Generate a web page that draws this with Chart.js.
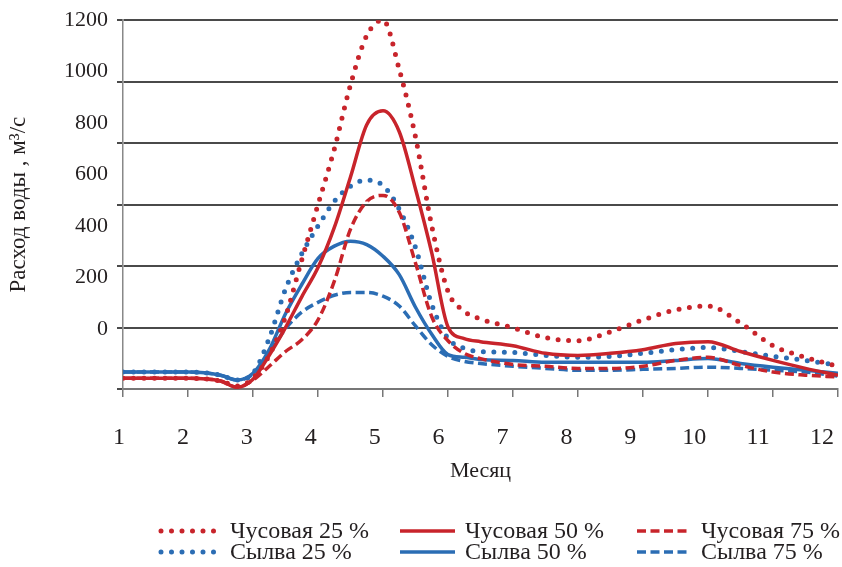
<!DOCTYPE html>
<html lang="ru">
<head>
<meta charset="utf-8">
<title>Расход воды</title>
<script src="https://cdn.jsdelivr.net/npm/chart.js@4.4.1/dist/chart.umd.min.js"></script>
<style>
  html, body { margin: 0; padding: 0; background: #fff; }
  #wrap { width: 842px; height: 567px; }
</style>
</head>
<body>
<div id="wrap"><canvas id="chartRashod" width="842" height="567"></canvas></div>
<script>
// месяцы (точки кривых) и значения расхода, м3/с
const months = [1, 1.5, 2, 2.5, 2.75, 3, 3.25, 3.5, 3.75, 4, 4.25, 4.5, 4.75, 5, 5.25, 5.5, 5.75,
  6, 6.25, 6.5, 7, 7.5, 8, 8.5, 9, 9.5, 10, 10.5, 11, 11.5, 12];

const chus25 = [35, 35, 35, 26, 10, 35, 110, 235, 420, 600, 780, 990, 1150, 1200, 1040, 820, 530,
  318, 253, 228, 199, 167, 157, 186, 225, 257, 270, 215, 141, 103, 74];
const chus50 = [35, 35, 35, 26, 6, 32, 110, 200, 300, 395, 525, 690, 860, 905, 837, 651, 443,
  202, 164, 154, 141, 116, 109, 116, 128, 148, 154, 122, 93, 67, 45];
const chus75 = [35, 35, 35, 26, 6, 29, 74, 122, 160, 225, 350, 520, 610, 630, 575, 410, 235,
  157, 116, 99, 80, 74, 67, 67, 74, 93, 103, 77, 55, 45, 39];
const syl25 = [55, 55, 55, 45, 29, 51, 165, 325, 440, 530, 610, 660, 680, 662, 585, 460, 275,
  165, 132, 122, 119, 109, 103, 106, 116, 128, 135, 122, 106, 93, 77];
const syl50 = [55, 55, 55, 45, 29, 51, 128, 245, 340, 425, 465, 481, 470, 432, 372, 266, 178,
  112, 103, 96, 93, 87, 87, 87, 87, 93, 99, 83, 71, 61, 51];
const syl75 = [55, 55, 55, 45, 29, 48, 116, 196, 250, 282, 305, 314, 314, 302, 270, 205, 144,
  106, 90, 83, 74, 67, 61, 61, 64, 67, 71, 67, 61, 55, 42];

// подписи осей
const monthLabels = [1, 2, 3, 4, 5, 6, 7, 8, 9, 10, 11, 12];
const yLabels = [0, 200, 400, 600, 800, 1000, 1200];

const RED = '#c8242b';
const BLUE = '#2b6db4';
const TXT = '#231f20';
const FONT = 'Liberation Serif';

const pts = (vals) => months.map((m, i) => ({ x: m, y: vals[i] }));

const dotted = { borderWidth: 5, borderDash: [0, 10.5], borderCapStyle: 'round' };
const solid = { borderWidth: 3.5, borderDash: [], borderCapStyle: 'butt' };
const dashed = { borderWidth: 3.5, borderDash: [9, 4.5], borderCapStyle: 'butt' };

const data = {
  datasets: [
    { label: 'Чусовая 25 %', data: pts(chus25), borderColor: RED, ...dotted },
    { label: 'Чусовая 50 %', data: pts(chus50), borderColor: RED, ...solid },
    { label: 'Чусовая 75 %', data: pts(chus75), borderColor: RED, ...dashed },
    { label: 'Сылва 25 %', data: pts(syl25), borderColor: BLUE, ...dotted },
    { label: 'Сылва 50 %', data: pts(syl50), borderColor: BLUE, ...solid },
    { label: 'Сылва 75 %', data: pts(syl75), borderColor: BLUE, ...dashed }
  ]
};

// легенда сеткой 3 x 2 под графиком
const gridLegend = {
  id: 'gridLegend',
  afterDraw(chart, args, opts) {
    const ctx = chart.ctx;
    ctx.save();
    ctx.font = opts.fontSize + 'px "' + FONT + '"';
    ctx.fillStyle = TXT;
    ctx.textBaseline = 'middle';
    chart.data.datasets.forEach((ds, i) => {
      const col = i % 3, row = Math.floor(i / 3);
      const s = opts.samples[col], y = opts.rows[row];
      ctx.save();
      ctx.strokeStyle = ds.borderColor;
      ctx.lineWidth = ds.borderWidth;
      ctx.lineCap = ds.borderCapStyle;
      ctx.setLineDash(ds.borderDash);
      ctx.beginPath();
      ctx.moveTo(s[0], y);
      ctx.lineTo(s[1], y);
      ctx.stroke();
      ctx.restore();
      ctx.fillText(ds.label, opts.texts[col], y + 1);
    });
    ctx.restore();
  }
};

const noPad = (s) => { s.paddingLeft = 0; s.paddingRight = 0; };

const chartConfig = {
  type: 'line',
  data: data,
  plugins: [gridLegend],
  options: {
    responsive: false,
    animation: false,
    layout: { padding: { top: 15, right: 4, left: 0, bottom: 70 } },
    elements: {
      point: { radius: 0 },
      line: { tension: 0.4, cubicInterpolationMode: 'monotone', fill: false }
    },
    plugins: {
      legend: { display: false },
      tooltip: { enabled: false },
      gridLegend: {
        samples: [[161, 214], [400, 455], [637, 690]],
        texts: [230, 465, 701],
        rows: [531, 552],
        fontSize: 24
      }
    },
    scales: {
      x: {
        type: 'linear', position: 'bottom', min: 1, max: 12,
        ticks: { stepSize: 1, display: false },
        grid: { drawOnChartArea: false, drawTicks: true, tickLength: 8, color: '#777', lineWidth: 1.5 },
        border: { display: true, color: '#777', width: 2 },
        afterFit: (s) => { s.height = 8; noPad(s); }
      },
      x2: {
        type: 'linear', position: 'bottom', min: 1.0626, max: 12.25,
        grid: { display: false, drawTicks: false },
        border: { display: false },
        afterBuildTicks: (s) => { s.ticks = monthLabels.map(v => ({ value: v })); },
        ticks: { autoSkip: false, color: TXT, font: { family: FONT, size: 24 }, padding: 26, callback: (v) => String(v) },
        title: { display: true, text: 'Месяц', color: TXT, font: { family: FONT, size: 22 }, padding: { top: 0, bottom: 13 } },
        afterFit: (s) => { s.height = 100; noPad(s); }
      },
      y: {
        type: 'linear', position: 'left', min: 0, max: 1200, weight: 0,
        ticks: { stepSize: 200, display: false },
        grid: { color: '#4a4a4a', lineWidth: 2, drawTicks: true, tickLength: 6 },
        border: { display: true, color: '#888', width: 1.5 },
        afterFit: (s) => { s.width = 8; }
      },
      y2: {
        type: 'linear', position: 'left', min: -234, max: 1200, weight: 1,
        grid: { display: false, drawTicks: false },
        border: { display: false },
        afterBuildTicks: (s) => { s.ticks = yLabels.map(v => ({ value: v })); },
        ticks: { autoSkip: false, color: TXT, font: { family: FONT, size: 22 }, padding: 7, callback: (v) => String(v) },
        title: { display: true, text: 'Расход воды , м³/с', color: TXT, font: { family: FONT, size: 23 }, padding: { top: 5, bottom: 4 } },
        afterFit: (s) => { s.width = 115; }
      }
    }
  }
};

const ctx = document.getElementById('chartRashod');
const chartRashod = new Chart(ctx, chartConfig);
</script>
</body>
</html>
